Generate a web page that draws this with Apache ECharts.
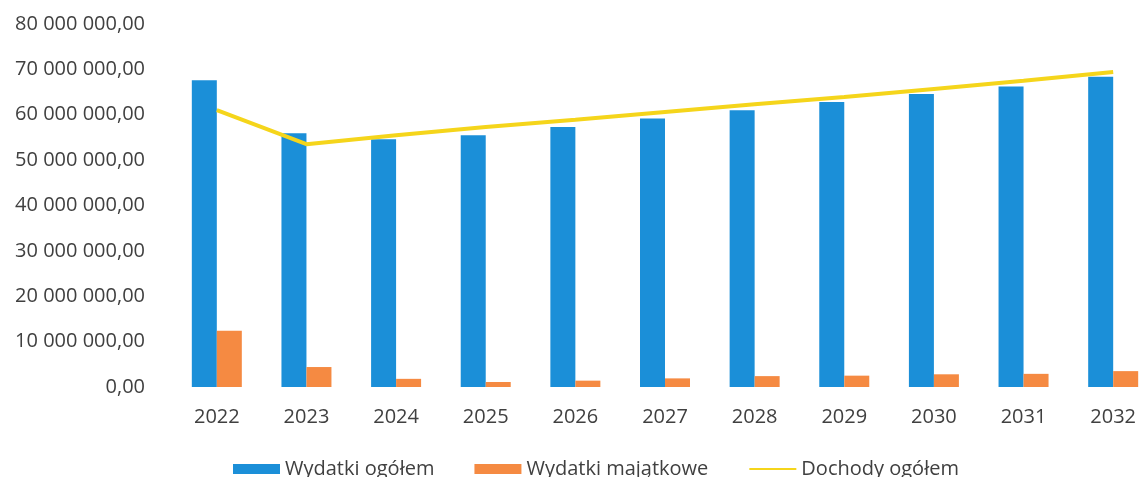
<!DOCTYPE html>
<html><head><meta charset="utf-8">
<script src="https://cdn.jsdelivr.net/npm/echarts@6/dist/echarts.min.js"></script>
<style>html,body{margin:0;padding:0;background:#fff}#c{width:1141px;height:477px}</style>
</head><body><div id="c"></div>
<script>
const categories = ['2022','2023','2024','2025','2026','2027','2028','2029','2030','2031','2032'];
const wydatkiOgolem = [67600000, 55900000, 54600000, 55500000, 57300000, 59200000, 61000000, 62800000, 64600000, 66200000, 68400000];
const wydatkiMajatkowe = [12400000, 4400000, 1800000, 1100000, 1400000, 1900000, 2400000, 2500000, 2800000, 2900000, 3500000];
const dochodyOgolem = [61000000, 53500000, 55500000, 57300000, 58900000, 60600000, 62300000, 63900000, 65700000, 67500000, 69400000];
const seriesNames = ['Wydatki ogółem', 'Wydatki majątkowe', 'Dochody ogółem'];

function fmt(v){
  const s = Math.round(v).toString().replace(/\B(?=(\d{3})+(?!\d))/g, ' ');
  return s + ',00';
}
const font = 'Open Sans';
const chart = echarts.init(document.getElementById('c'));
chart.setOption({
  animation: false,
  backgroundColor: '#fff',
  grid: {left: 172, width: 986, top: 24, bottom: 90, outerBoundsMode: 'none', containLabel: false},
  legend: {
    top: 454, left: 228,
    itemWidth: 47, itemHeight: 10, itemGap: 40,
    textStyle: {fontFamily: font, fontSize: 20, color: '#404040', padding: [0, 0, 0, 0]},
    data: [
      {name: seriesNames[0], icon: 'rect'},
      {name: seriesNames[1], icon: 'rect'},
      {name: seriesNames[2], itemStyle: {opacity: 0}}
    ]
  },
  xAxis: {
    type: 'category', data: categories,
    axisLine: {show: false}, axisTick: {show: false},
    axisLabel: {fontFamily: font, fontSize: 20, color: '#404040', margin: 20}
  },
  yAxis: {
    type: 'value', min: 0, max: 80000000, interval: 10000000,
    splitLine: {show: false}, axisLine: {show: false}, axisTick: {show: false},
    axisLabel: {fontFamily: font, fontSize: 20, color: '#404040', margin: 27, formatter: fmt}
  },
  series: [
    {name: seriesNames[0], type: 'bar', data: wydatkiOgolem, barWidth: 25, barGap: '0%', itemStyle: {color: '#1b8fd8'}},
    {name: seriesNames[1], type: 'bar', data: wydatkiMajatkowe, barWidth: 25, barGap: '0%', itemStyle: {color: '#f58a42'}},
    {name: seriesNames[2], type: 'line', data: dochodyOgolem, symbol: 'none', lineStyle: {color: '#f5d51b', width: 4}, itemStyle: {color: '#f5d51b'}}
  ]
});
</script></body></html>
